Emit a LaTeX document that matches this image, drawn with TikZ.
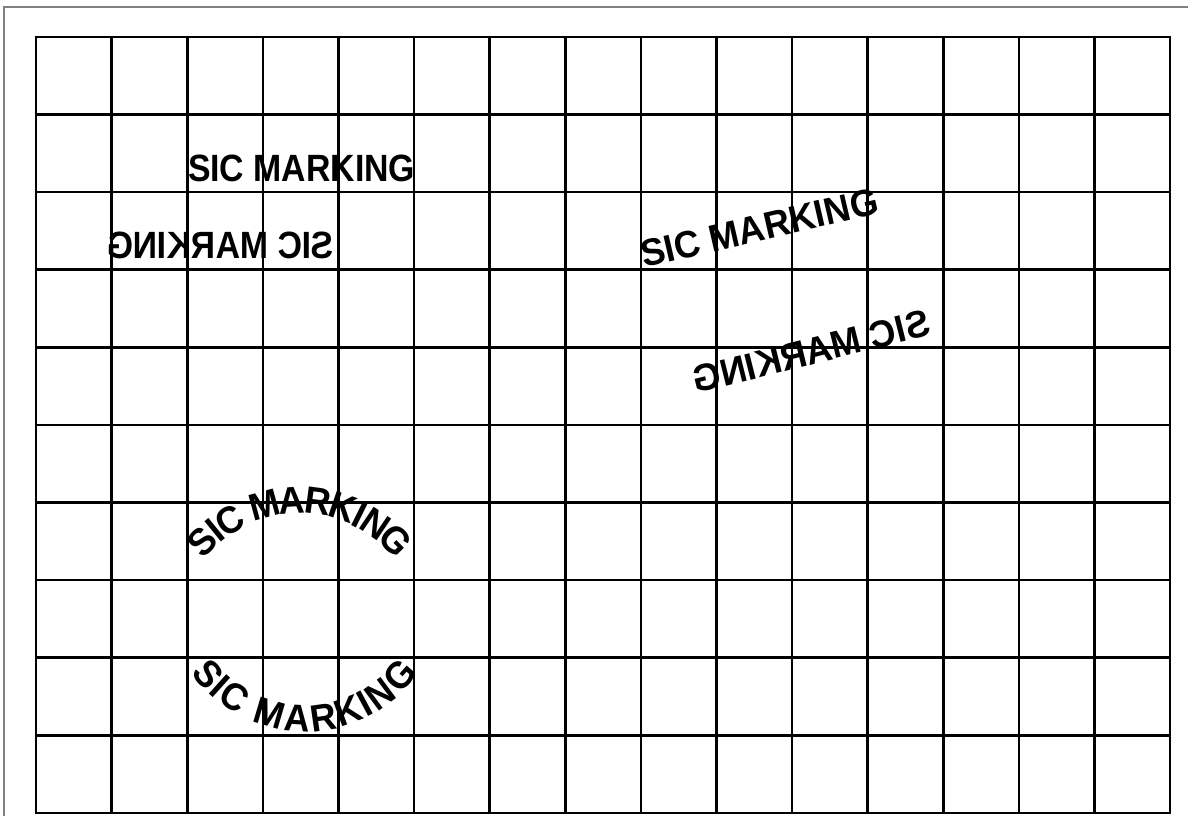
\documentclass[tikz,border=0pt]{standalone}
\usepackage{fontspec}
\usetikzlibrary{decorations.text}
\newfontfamily\sicfont[FakeStretch=0.95]{Liberation Sans Bold}
\newfontfamily\sicfontn[FakeStretch=0.89]{Liberation Sans Bold}
\newcommand{\sicsize}{\fontsize{38bp}{42bp}\selectfont}
\tikzset{
  gridline/.style={line width=2.6bp, black},
  frameline/.style={line width=1.5bp, black!50},
  marktext/.style={inner sep=0pt, outer sep=0pt, font=\sicfont\sicsize},
  marktextn/.style={inner sep=0pt, outer sep=0pt, font=\sicfontn\sicsize},
}
\begin{document}
\begin{tikzpicture}[x=1bp, y=1bp]
\useasboundingbox (0,0) rectangle (1188,816);
\fill[white] (0,0) rectangle (1188,816);
\clip (0,0) rectangle (1188,816);
% outer frame (top and left edges visible)
\coordinate (fa) at (4,-5);
\coordinate (fb) at (4,809);
\coordinate (fc) at (1195,809);
\draw[frameline] (fa) -- (fb) -- (fc);
% grid
\foreach \i in {0,...,15}
  \draw[gridline] ({36+\i*75.6},3) -- ({36+\i*75.6},779);
\foreach \j in {0,...,10}
  \draw[gridline] (34.7,{3+\j*77.6}) -- (1171.3,{3+\j*77.6});
% straight texts
\node[marktextn, anchor=base west] (t1) at (188,634) {SIC MARKING};
\node[marktextn, anchor=base east] (t2) at (334,557) {\reflectbox{SIC MARKING}};
% rotated texts
\node[marktext, anchor=base west, rotate=13] (t3) at (644,548) {SIC MARKING};
\node[marktext, anchor=base east, rotate=14] (t4) at (932,481) {\reflectbox{SIC MARKING}};
% arc texts
\coordinate (c1) at (300,181);
\coordinate (c2) at (305,224);
\path[decorate, decoration={text along path, text align=center, raise=-13.6bp,
  text={|\sicfont\sicsize|SIC MARKING}}]
  (c1) ++(150:135) arc[start angle=150, end angle=30, radius=135];
\path[decorate, decoration={text along path, text align=center, raise=-13.6bp,
  text={|\sicfont\sicsize|SIC MARKING}}]
  (c2) ++(200:126) arc[start angle=200, end angle=340, radius=126];
\end{tikzpicture}
\end{document}
